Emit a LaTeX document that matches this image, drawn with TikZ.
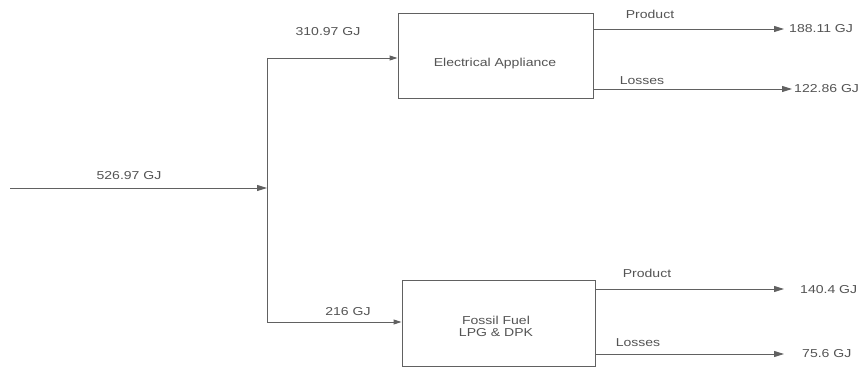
\documentclass[tikz,border=0pt]{standalone}
\usepackage{fontspec}
\setmainfont[FakeStretch=1.22]{Liberation Sans}
\usetikzlibrary{arrows.meta}
\definecolor{ink}{gray}{0.33}
\definecolor{lineg}{gray}{0.38}
\tikzset{
  flow/.style={draw=lineg, line width=0.9pt, -{Triangle[length=10pt,width=6pt]}},
  shortflow/.style={draw=lineg, line width=0.9pt, -{Triangle[length=8pt,width=5pt]}},
  plain/.style={draw=lineg, line width=0.9pt},
  procbox/.style={draw=lineg, line width=0.9pt, inner sep=0pt},
  lbl/.style={text=ink, font=\fontsize{11.5}{13}\selectfont, inner sep=1pt, align=center},
}
\begin{document}
\begin{tikzpicture}[x=1pt,y=1pt]
\useasboundingbox[fill=white] (0,0) rectangle (864,367);
% boxes
\node[procbox, minimum width=195pt, minimum height=85pt] (ea) at (495.5,311.5) {};
\node[procbox, minimum width=193pt, minimum height=86pt] (ff) at (498.5,44) {};
\node[lbl] (eat) at (495,303) {Electrical Appliance};
\node[lbl, font=\fontsize{11.5}{12}\selectfont] (fft) at (496,41) {Fossil Fuel\\LPG \& DPK};
% input and split
\coordinate (in) at (10,179);
\coordinate (j) at (267,179);
\coordinate (jt) at (267,309);
\coordinate (jb) at (267,45);
\draw[flow] (in) -- (j);
\draw[plain] (jt) -- (jb);
\draw[shortflow] (jt) -- (ea.west |- jt);
\draw[shortflow] (jb) -- (ff.west |- jb);
\node[lbl] (l1) at (129,191) {526.97 GJ};
\node[lbl] (l2) at (328,335) {310.97 GJ};
\node[lbl] (l3) at (348,55) {216 GJ};
% outputs top
\coordinate (t1) at (784,338);
\coordinate (t2) at (792,278);
\node[lbl, anchor=west] (o1) at (788,338) {188.11 GJ};
\node[lbl, anchor=west] (o2) at (793,278) {122.86 GJ};
\draw[flow] (ea.east |- t1) -- (t1);
\draw[flow] (ea.east |- t2) -- (t2);
\node[lbl] (p1) at (650,353) {Product};
\node[lbl] (s1) at (642,286) {Losses};
% outputs bottom
\coordinate (t3) at (784,78);
\coordinate (t4) at (784,13);
\node[lbl, anchor=west] (o3) at (799,77) {140.4 GJ};
\node[lbl, anchor=west] (o4) at (801,13) {75.6 GJ};
\draw[flow] (ff.east |- t3) -- (t3);
\draw[flow] (ff.east |- t4) -- (t4);
\node[lbl] (p2) at (647,94) {Product};
\node[lbl] (s2) at (638,24) {Losses};
\end{tikzpicture}
\end{document}
